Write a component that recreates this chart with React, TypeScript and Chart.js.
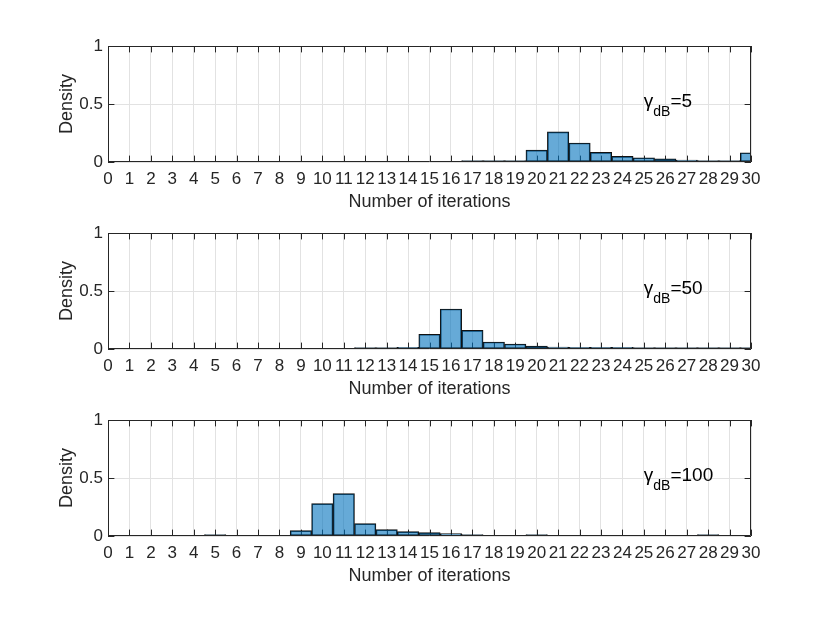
import React, { useEffect, useRef } from "react";
import { Chart, registerables } from "chart.js";

Chart.register(...registerables);

// ---------- data ----------
const iterations = [
  "0", "1", "2", "3", "4", "5", "6", "7", "8", "9", "10",
  "11", "12", "13", "14", "15", "16", "17", "18", "19", "20",
  "21", "22", "23", "24", "25", "26", "27", "28", "29", "30",
];

// density per number of iterations, gamma_dB = 5
const density5 = [
  0, 0, 0, 0, 0, 0, 0, 0, 0, 0, 0,
  0, 0, 0, 0, 0, 0, 0.003, 0.003, 0.008, 0.103,
  0.26, 0.164, 0.083, 0.048, 0.037, 0.027, 0.016, 0.008, 0.008, 0.08,
];

// gamma_dB = 50
const density50 = [
  0, 0, 0, 0, 0, 0, 0, 0, 0, 0, 0,
  0, 0.003, 0.003, 0.014, 0.127, 0.345, 0.161, 0.06, 0.043, 0.026,
  0.017, 0.015, 0.015, 0.014, 0.012, 0.005, 0.003, 0.003, 0.003, 0.003,
];

// gamma_dB = 100
const density100 = [
  0, 0, 0, 0, 0, 0.005, 0, 0, 0, 0.046, 0.279,
  0.365, 0.106, 0.055, 0.038, 0.029, 0.02, 0.005, 0, 0, 0.004,
  0, 0, 0, 0, 0, 0, 0, 0.004, 0, 0,
];

const gammaValues = ["5", "50", "100"];
const seriesList = [density5, density50, density100];
const yTickValues = [0, 0.5, 1];
const yTickLabels = ["0", "0.5", "1"];

const xTitle = "Number of iterations";
const yTitle = "Density";

// ---------- style ----------
const FONT = '"Liberation Sans", Arial, Helvetica, sans-serif';
const AXIS_COLOR = "#262626";
const GRID_COLOR = "#e2e2e2";
const BAR_COLOR = "rgba(0,114,189,0.6)";
const TICK_LEN = 6.4;

const CANVAS_W = 830;
const CANVAS_H = 215;
const PANEL_TOPS = [0, 187, 374];

const matlabAxesPlugin = {
  id: "matlabAxes",
  beforeDatasetsDraw(chart: any) {
    const { ctx, chartArea } = chart;
    const xs = chart.scales.x;
    const ys = chart.scales.y;
    ctx.save();
    ctx.strokeStyle = AXIS_COLOR;
    ctx.lineWidth = 1;
    ctx.beginPath();
    for (let i = 0; i < iterations.length; i++) {
      const px = Math.round(xs.getPixelForValue(i)) + 0.5;
      ctx.moveTo(px, chartArea.bottom);
      ctx.lineTo(px, chartArea.bottom - TICK_LEN);
      ctx.moveTo(px, chartArea.top);
      ctx.lineTo(px, chartArea.top + TICK_LEN);
    }
    for (const v of yTickValues) {
      const py = Math.round(ys.getPixelForValue(v)) + 0.5;
      ctx.moveTo(chartArea.left, py);
      ctx.lineTo(chartArea.left + TICK_LEN, py);
      ctx.moveTo(chartArea.right, py);
      ctx.lineTo(chartArea.right - TICK_LEN, py);
    }
    ctx.stroke();
    ctx.restore();
  },
  afterDatasetsDraw(chart: any, _args: any, opts: any) {
    const { ctx, chartArea } = chart;
    const xs = chart.scales.x;
    const ys = chart.scales.y;
    ctx.save();
    // box
    ctx.strokeStyle = AXIS_COLOR;
    ctx.lineWidth = 1;
    const l = Math.round(chartArea.left) + 0.5;
    const r = Math.round(chartArea.right) - 0.5;
    const t = Math.round(chartArea.top) + 0.5;
    const b = Math.round(chartArea.bottom) - 0.5;
    ctx.beginPath();
    ctx.moveTo(l, t);
    ctx.lineTo(r, t);
    ctx.lineTo(r, b);
    ctx.lineTo(l, b);
    ctx.closePath();
    ctx.stroke();

    // gamma annotation
    const gx = xs.getPixelForValue(25);
    const gy = ys.getPixelForValue(0.47);
    ctx.fillStyle = "#000";
    ctx.textAlign = "left";
    ctx.textBaseline = "alphabetic";
    ctx.font = `19px ${FONT}`;
    ctx.fillText("γ", gx, gy);
    let w = ctx.measureText("γ").width;
    ctx.font = `14px ${FONT}`;
    ctx.fillText("dB", gx + w, gy + 9);
    w += ctx.measureText("dB").width;
    ctx.font = `19px ${FONT}`;
    ctx.fillText("=" + opts.value, gx + w, gy);
    ctx.restore();
  },
};

function Panel({ data, gamma, top }: { data: number[]; gamma: string; top: number }) {
  const ref = useRef<HTMLCanvasElement | null>(null);
  useEffect(() => {
    if (!ref.current) return;
    const chart = new Chart(ref.current, {
      type: "bar",
      data: {
        labels: iterations,
        datasets: [
          {
            // empty bins are not drawn at all
            data: data.map((v) => (v === 0 ? null : v)),
            backgroundColor: BAR_COLOR,
            borderColor: "#111",
            borderWidth: 1,
            borderSkipped: false,
            minBarLength: 1.5,
            barPercentage: 1,
            categoryPercentage: 1,
          },
        ],
      },
      options: {
        animation: false,
        responsive: false,
        devicePixelRatio: 1,
        layout: { padding: { top: 46, right: 79, left: 0, bottom: 0 } },
        plugins: {
          legend: { display: false },
          tooltip: { enabled: false },
          matlabAxes: { value: gamma },
        } as any,
        scales: {
          x: {
            type: "category",
            offset: false,
            grid: { color: GRID_COLOR, drawTicks: false, lineWidth: 1, offset: false },
            border: { display: false },
            ticks: {
              autoSkip: false,
              maxRotation: 0,
              minRotation: 0,
              padding: 7,
              color: AXIS_COLOR,
              font: { family: FONT, size: 17 },
            },
            title: {
              display: true,
              text: xTitle,
              color: AXIS_COLOR,
              font: { family: FONT, size: 18 },
              padding: { top: 0, bottom: 2 },
            },
            afterFit(scale: any) {
              scale.height = 53;
            },
          },
          y: {
            min: 0,
            max: 1,
            afterBuildTicks(scale: any) {
              scale.ticks = yTickValues.map((v) => ({ value: v }));
            },
            grid: { color: GRID_COLOR, drawTicks: false, lineWidth: 1 },
            border: { display: false },
            ticks: {
              padding: 5,
              color: AXIS_COLOR,
              font: { family: FONT, size: 17 },
              callback: (_v: any, i: number) => yTickLabels[i],
            },
            title: {
              display: true,
              text: yTitle,
              color: AXIS_COLOR,
              font: { family: FONT, size: 18 },
              padding: { top: 56, bottom: 0 },
            },
            afterFit(scale: any) {
              scale.width = 108;
            },
          },
        },
      } as any,
      plugins: [matlabAxesPlugin],
    });
    return () => chart.destroy();
  }, [data, gamma]);
  return (
    <canvas
      ref={ref}
      width={CANVAS_W}
      height={CANVAS_H}
      style={{ position: "absolute", left: 0, top, width: CANVAS_W, height: CANVAS_H }}
    />
  );
}

export default function App() {
  return (
    <div
      style={{
        position: "absolute",
        left: 0,
        top: 0,
        width: 830,
        height: 623,
        background: "#ffffff",
        overflow: "hidden",
      }}
    >
      {seriesList.map((s, i) => (
        <Panel key={i} data={s} gamma={gammaValues[i]} top={PANEL_TOPS[i]} />
      ))}
    </div>
  );
}
